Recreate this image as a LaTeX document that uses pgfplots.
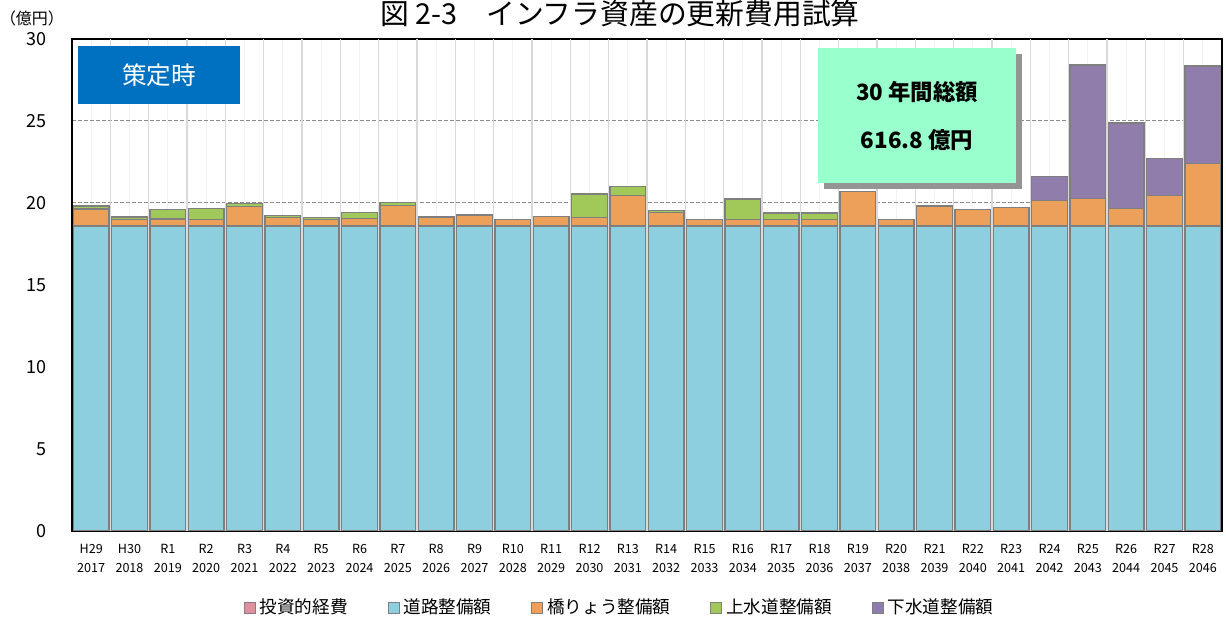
\documentclass[border=0pt]{standalone}
\usepackage{pgfplots}
\pgfplotsset{compat=1.18}
\usepackage{pgfplotstable}
\usepackage{fontspec}
\setmainfont{Noto Sans CJK JP}
\definecolor{cRoad}{HTML}{8ECFDF}
\definecolor{cBridge}{HTML}{EDA05A}
\definecolor{cWater}{HTML}{A0C95A}
\definecolor{cSewer}{HTML}{917DAB}
\definecolor{cPink}{HTML}{E0909C}
\definecolor{cBox}{HTML}{0070C0}
\definecolor{cMint}{HTML}{99FFCC}
\definecolor{cEdge}{HTML}{7F7F7F}

\pgfplotstableread{
x road bridge water sewer
0 18.6 1.03 0.19 0
1 18.6 0.38 0.17 0
2 18.6 0.42 0.60 0
3 18.6 0.40 0.66 0
4 18.6 1.20 0.18 0
5 18.6 0.50 0.15 0
6 18.6 0.38 0.15 0
7 18.6 0.47 0.36 0
8 18.6 1.24 0.20 0
9 18.6 0.50 0.09 0
10 18.6 0.63 0.08 0
11 18.6 0.40 0 0
12 18.6 0.59 0 0
13 18.6 0.53 1.42 0
14 18.6 1.87 0.55 0
15 18.6 0.83 0.12 0
16 18.6 0.40 0 0
17 18.6 0.40 1.24 0
18 18.6 0.40 0.39 0
19 18.6 0.40 0.39 0
20 18.6 2.11 0 0
21 18.6 0.40 0 0
22 18.6 1.22 0 0
23 18.6 1.00 0 0
24 18.6 1.14 0 0
25 18.6 1.56 0 1.47
26 18.6 1.69 0 8.12
27 18.6 1.06 0 5.22
28 18.6 1.85 0 2.25
29 18.6 3.82 0 5.93
}\data

\begin{document}
\begin{tikzpicture}
\path[use as bounding box] (-36pt,-44.5pt) rectangle (577pt,265.5pt);
\begin{axis}[
  at={(0,0)}, anchor=south west,
  scale only axis, width=575pt, height=246pt,
  xmin=-0.5, xmax=29.5, ymin=0, ymax=30,
  ybar stacked, bar width=0.93,
  xtick={0,...,29},
  xticklabels={{H29\\2017},{H30\\2018},{R1\\2019},{R2\\2020},{R3\\2021},{R4\\2022},{R5\\2023},{R6\\2024},{R7\\2025},{R8\\2026},{R9\\2027},{R10\\2028},{R11\\2029},{R12\\2030},{R13\\2031},{R14\\2032},{R15\\2033},{R16\\2034},{R17\\2035},{R18\\2036},{R19\\2037},{R20\\2038},{R21\\2039},{R22\\2040},{R23\\2041},{R24\\2042},{R25\\2043},{R26\\2044},{R27\\2045},{R28\\2046}},
  xticklabel style={align=center, font=\fontsize{6.3}{9.5}\selectfont, yshift=-3pt},
  ytick={0,5,...,30},
  yticklabel style={font=\fontsize{9}{10}\selectfont, xshift=-9pt},
  /pgf/number format/assume math mode=true,
  major tick length=0pt,
  xmajorgrids, ymajorgrids,
  x grid style={color=black!5, line width=0.6pt},
  y grid style={color=black!45, dash pattern=on 2pt off 1pt, line width=0.5pt},
  extra x ticks={0.5,1.5,...,28.5},
  extra x tick labels={},
  extra x tick style={grid=major, x grid style={color=black!15, line width=0.6pt}},
  axis line style={black, line width=0.8pt},
  legend style={at={(0.477,-0.156)}, anchor=center, draw=none, fill=none,
    legend columns=5, font=\fontsize{8.8}{9}\selectfont,
    /tikz/every even column/.append style={column sep=18pt},
    nodes={inner xsep=2pt}},
  sq/.style={legend image code/.code={\draw[##1, draw=cEdge, line width=0.4pt] (0pt,-2.75pt) rectangle (5.5pt,2.75pt);}},
]
\addlegendimage{sq, fill=cPink}
\addlegendentry{投資的経費}
\addplot[sq, fill=cRoad, draw=cEdge, line width=0.6pt] table[x=x,y=road]{\data};
\addlegendentry{道路整備額}
\addplot[sq, fill=cBridge, draw=cEdge, line width=0.6pt] table[x=x,y=bridge]{\data};
\addlegendentry{橋りょう整備額}
\addplot[sq, fill=cWater, draw=cEdge, line width=0.6pt] table[x=x,y=water]{\data};
\addlegendentry{上水道整備額}
\addplot[sq, fill=cSewer, draw=cEdge, line width=0.6pt] table[x=x,y=sewer]{\data};
\addlegendentry{下水道整備額}
\end{axis}
\fill[cBox] (3pt,213.5pt) rectangle (84pt,242.5pt);
\node[text=white, font=\fontsize{12.3}{12.3}\selectfont] at (43.5pt,228pt) {策定時};
\fill[black!42] (376pt,171pt) rectangle (475pt,238.5pt);
\fill[cMint] (373pt,174pt) rectangle (472pt,241.5pt);
\node[font=\bfseries\fontsize{11.2}{12}\selectfont] at (422.5pt,219.5pt) {30 年間総額};
\node[font=\bfseries\fontsize{11.2}{12}\selectfont] at (422.5pt,195.5pt) {616.8 億円};
\node[font=\fontsize{14.4}{15}\selectfont] at (274pt,258.5pt) {図 2-3　インフラ資産の更新費用試算};
\node[font=\fontsize{8}{9}\selectfont] at (-20pt,256.5pt) {（億円）};
\end{tikzpicture}
\end{document}
